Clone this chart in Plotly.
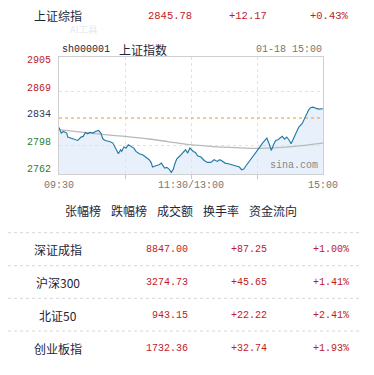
import plotly.graph_objects as go

# ---- data ----
prev_close = 2833.61
minutes = [0, 2, 4, 7, 8, 11, 15, 17, 20, 22, 24, 26, 28, 31, 33, 36, 38, 40, 42, 46,
           49, 51, 54, 56, 57, 59, 61, 63, 66, 68, 70, 73, 76, 79, 82, 84, 85, 88, 91, 93,
           95, 96, 98, 100, 102, 104, 105, 107, 110, 113, 115, 117, 119, 122, 124, 126, 129, 132, 135, 138,
           141, 144, 146, 148, 151, 154, 157, 160, 162, 164, 166, 168, 170, 173, 175, 177, 179, 181, 183, 185,
           188, 189, 191, 193, 195, 197, 199, 201, 203, 205, 207, 209, 211, 213, 216, 218, 221, 222, 225, 227,
           229, 231, 234, 236, 240]
prices = [2821.3, 2813.9, 2816.0, 2813.9, 2808.6, 2807.3, 2805.1, 2804.2, 2808.6, 2809.5,
          2814.7, 2813.0, 2814.7, 2813.9, 2816.0, 2817.3, 2813.9, 2806.0, 2804.2, 2802.9,
          2800.7, 2794.2, 2786.8, 2792.0, 2789.8, 2795.5, 2794.2, 2798.6, 2795.5, 2794.2,
          2789.8, 2786.8, 2785.4, 2782.4, 2778.9, 2774.5, 2769.3, 2771.0, 2772.3, 2774.5,
          2771.0, 2768.0, 2768.9, 2766.7, 2762.3, 2766.7, 2772.3, 2779.8, 2784.1, 2788.5,
          2792.0, 2787.6, 2794.2, 2789.8, 2788.5, 2784.1, 2782.4, 2778.0, 2775.4, 2775.4,
          2778.9, 2776.7, 2778.9, 2777.6, 2774.5, 2773.6, 2772.3, 2771.0, 2770.2, 2769.3,
          2765.8, 2766.7, 2771.0, 2776.7, 2781.1, 2784.1, 2787.6, 2792.9, 2796.4, 2800.7,
          2806.0, 2807.3, 2799.9, 2791.1, 2798.6, 2804.2, 2805.1, 2807.3, 2809.5, 2806.0,
          2808.6, 2805.1, 2799.9, 2806.0, 2814.7, 2821.7, 2826.1, 2829.1, 2837.9, 2844.4,
          2847.5, 2847.9, 2846.2, 2845.3, 2845.78]
avg_minutes = [0, 20, 37, 60, 82, 100, 119, 140, 161, 179, 203, 220, 240]
avg_prices = [2818.3, 2815.2, 2812.6, 2809.4, 2806.1, 2802.4, 2798.6, 2796.2, 2794.7, 2793.8,
              2795.1, 2797.4, 2800.8]

y_ticks = [2905, 2869, 2834, 2798, 2762]
y_tick_colors = ["#c0191f", "#c0191f", "#2b3a5e", "#2f7d32", "#2f7d32"]
x_ticks = [0, 120, 240]
x_tick_labels = ["09:30", "11:30/13:00", "15:00"]

header = ["上证综指", "2845.78", "+12.17", "+0.43%"]
menu = ["张幅榜", "跌幅榜", "成交额", "换手率", "资金流向"]
names = ["深证成指", "沪深300", "北证50", "创业板指"]
values = ["8847.00", "3274.73", "943.15", "1732.36"]
changes = ["+87.25", "+45.65", "+22.22", "+32.74"]
pcts = ["+1.00%", "+1.41%", "+2.41%", "+1.93%"]

# ---- geometry (page pixels; the page body has an 8px margin) ----
OX, OY = 8, 8
W, H = 358, 359
PL, PR, PT, PB = 59, 323, 57, 174
YMIN, YMAX = 2760.2, 2913.6

def px(x):
    return (x - OX) / W

def py(y):
    return 1 - (y - OY) / H

CJK = "Noto Sans CJK SC"
MONO = "Liberation Mono"
RED = "#c0191f"
DARK = "#1e2637"

fig = go.Figure()
fig.add_trace(go.Scatter(x=minutes, y=prices, mode="lines", line=dict(width=0),
                         fill="tozeroy", fillcolor="rgba(214,229,247,0.55)", hoverinfo="skip"))
fig.add_trace(go.Scatter(x=avg_minutes, y=avg_prices, mode="lines",
                         line=dict(color="#b9b9b9", width=1.3, shape="spline")))
fig.add_trace(go.Scatter(x=[0, 240], y=[prev_close, prev_close], mode="lines",
                         line=dict(color="#e89a2c", width=1, dash="dot")))
fig.add_trace(go.Scatter(x=minutes, y=prices, mode="lines",
                         line=dict(color="#237aa3", width=1.15)))

fig.update_layout(
    width=W, height=H, margin=dict(l=0, r=0, t=0, b=0),
    paper_bgcolor="white", plot_bgcolor="white", showlegend=False,
    xaxis=dict(domain=[px(PL), px(PR)], range=[0, 240], tickvals=[60, 120, 180],
               showticklabels=False, ticks="outside", ticklen=4, tickcolor="#c8c8c8",
               showgrid=True, gridcolor="#e2e2e2", griddash="dot", zeroline=False,
               showline=True, linecolor="#cfcfcf", mirror=True, fixedrange=True),
    yaxis=dict(domain=[py(PB), py(PT)], range=[YMIN, YMAX], tickvals=[2869, 2798],
               showticklabels=False, showgrid=True, gridcolor="#e2e2e2", griddash="dot",
               zeroline=False, showline=True, linecolor="#cfcfcf", mirror=True, fixedrange=True),
)

ann = []

def text(x, y, s, size, color, font=CJK, xanchor="center"):
    ann.append(dict(x=px(x), y=py(y), xref="paper", yref="paper", text=s, showarrow=False,
                    xanchor=xanchor, yanchor="middle",
                    font=dict(family=font, size=size, color=color)))

# header row
text(58, 16, header[0], 12, DARK)
text(194, 16, header[1], 10.5, RED, MONO, "right")
text(269, 16, header[2], 10.5, RED, MONO, "right")
text(351, 16, header[3], 10.5, RED, MONO, "right")
text(84, 29, "AI工具", 9.5, "#e6e9f1", CJK)

# chart title row
text(60, 49, "sh000001", 10, DARK, MONO, "left")
text(143, 49, "上证指数", 12, DARK)
text(324, 49, "01-18 15:00", 10, "#777777", MONO, "right")

# y tick labels
for v, c in zip(y_ticks, y_tick_colors):
    ann.append(dict(x=px(53), y=v, xref="paper", yref="y", text=str(v), showarrow=False,
                    xanchor="right", yanchor="middle", yshift=3,
                    font=dict(family=MONO, size=10, color=c)))
# x tick labels
for t, lab in zip(x_ticks, x_tick_labels):
    ann.append(dict(x=t, y=py(185), xref="x", yref="paper", text=lab, showarrow=False,
                    xanchor="center", yanchor="middle",
                    font=dict(family=MONO, size=10, color="#777777")))

text(320, 165, "sina.com", 10, "#888888", MONO, "right")

# menu
for cx, m in zip([82.5, 128.5, 174.5, 220.8, 272.5], menu):
    text(cx, 210, m, 12, DARK)

# table rows
row_y = [249, 282, 315, 348]
for yy, n, v, c, p in zip(row_y, names, values, changes, pcts):
    text(57.5, yy, n, 12, DARK)
    text(190, yy, v, 10, RED, MONO, "right")
    text(269, yy, c, 10, RED, MONO, "right")
    text(351, yy, p, 10, RED, MONO, "right")

fig.update_layout(annotations=ann)

shapes = []
for yy in [232.7, 265.7, 298.3, 331]:
    shapes.append(dict(type="line", xref="paper", yref="paper", x0=px(8), x1=px(359),
                       y0=py(yy), y1=py(yy), line=dict(color="#d6d6d6", width=1, dash="dot")))
fig.update_layout(shapes=shapes)

fig.write_html("out.html")
